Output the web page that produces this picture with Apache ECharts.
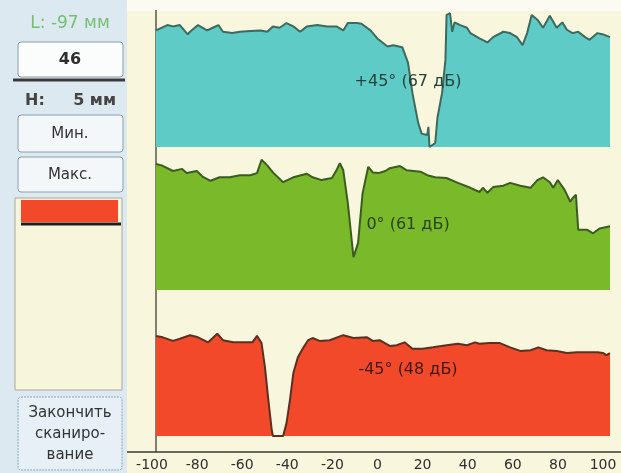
<!DOCTYPE html>
<html><head><meta charset="utf-8">
<script src="https://cdn.jsdelivr.net/npm/echarts@6/dist/echarts.min.js"></script>
<style>html,body{margin:0;padding:0;background:#f8f6dc;}#c{width:621px;height:473px;}</style>
</head><body><div id="c"></div>
<script>
// ---- data ----
const tickValues = [-100, -80, -60, -40, -20, 0, 20, 40, 60, 80, 100];
const bandLabels = ['+45° (67 дБ)', '0° (61 дБ)', '-45° (48 дБ)'];
const panelTexts = ['L: -97 мм', '46', 'H:', '5 мм', 'Мин.', 'Макс.', 'Закончить', 'сканиро-', 'вание'];

const plus45 = [[-100,87],[-95,91],[-92.5,90],[-89.5,91],[-86,84],[-85,86],[-81.5,91],[-77.5,87],[-75,89],[-72.5,91],[-70.5,86],[-66.5,85],[-63,86],[-58.5,86.5],[-54,87],[-51,86],[-48.5,90],[-45.5,89],[-42.5,92.5],[-39.5,90],[-36.5,86],[-33.5,90],[-29,91],[-24.5,90],[-20.5,90],[-17.5,87],[-15.5,92.5],[-11.5,92.5],[-9.5,92],[-5.5,87],[-2.5,81],[2,75],[4.5,76],[8.5,74.5],[11,63],[13,40],[15.5,18],[17,10],[19.5,9],[20,15],[20.5,0],[23,3],[24,22],[26,40],[27.5,65],[28,98.5],[29.5,100],[30.5,86],[31.5,93],[34,91],[37,89],[38.5,85],[42.5,81],[46,78],[48.5,82],[53,86],[56,85],[59,82],[61.5,76],[63.5,85],[65.5,98.5],[68,95],[70.5,89],[73.5,98],[76.5,89],[79,93],[81,87.5],[83.5,85],[86,86],[89,82],[91,80],[94.5,85],[97,84],[100,82]];

const zero = [[-100,90],[-97.5,89],[-92.5,85],[-88.5,86.5],[-86.5,83.5],[-82,85],[-79.5,81],[-76,78],[-72,80.5],[-67.5,80.5],[-63,82],[-58.5,82],[-55.5,83.5],[-53.5,93],[-51,89],[-48.5,84],[-44,77],[-39.5,80.5],[-33.5,83],[-31,80.5],[-27,78.5],[-22.5,80],[-20.5,85.5],[-19,90.5],[-17.5,85.5],[-15.5,62],[-13,23.5],[-11,33.5],[-9,69],[-6.5,88],[-4.5,84],[-2,83.5],[1,85],[3,87],[7.5,88.5],[10.5,85.5],[16.5,84.5],[19.5,82],[23,80.5],[28,80],[33,76.5],[38.5,73],[42.5,70],[44,73],[46,69.5],[48.5,73.5],[53,74.5],[56,76.5],[60.5,74.5],[65,73],[68,78.5],[70.5,80.5],[73.5,77],[75,73],[77,78.5],[80,71.5],[82.5,63],[83.5,65.5],[85,68],[86,43],[90,43],[92.5,40.5],[95.5,44],[100,45.5]];

const minus45 = [[-100,70],[-97,69],[-92.5,66.5],[-89.5,68],[-85,70.5],[-81.5,69],[-77,65.5],[-73,71.5],[-70.5,67],[-66,65.5],[-61.5,65.5],[-57.5,65.5],[-55.5,70],[-53.5,65],[-52,48],[-50.5,25],[-49,4],[-48.5,0],[-44,0],[-42.5,9],[-41,25],[-39.5,44],[-37.5,55],[-35,62],[-33,67],[-31,68.5],[-28,66.5],[-23.5,67],[-17.5,70.5],[-13,68.5],[-7,69],[-4.5,66.5],[-1.5,67],[3,63],[6,63.5],[9.5,65.5],[13,61],[17.5,61],[22,62],[28,63.5],[33,64.5],[37,63.5],[40.5,65.5],[42.5,64.5],[47,65],[51.5,65],[56,62],[60.5,59.5],[65,60],[68.5,62],[72,60],[76.5,59.5],[81,58],[85.5,58.5],[90,58.5],[94.5,58.5],[97,58],[98.5,56.5],[100,58]];

// ---- chart ----
const FONT = 'DejaVu Sans';
const bands = [
  {data: plus45, fill: '#5ecbc6', line: '#3d6a5c', top: 13, height: 134, lblY: 82, lblColor: '#24433b'},
  {data: zero, fill: '#79b92a', line: '#3b5c20', top: 150, height: 140, lblY: 225, lblColor: '#2b4216'},
  {data: minus45, fill: '#f3492b', line: '#5a3020', top: 293, height: 143, lblY: 370, lblColor: '#3d1a10'}
];

const grids = bands.map(b => ({left: 156, right: 11, top: b.top, height: b.height}));
grids.push({left: 152, right: 18, top: 293, height: 159});

const xAxes = bands.map((b, i) => ({type: 'value', gridIndex: i, min: -100, max: 100, show: false}));
xAxes.push({type: 'value', gridIndex: 3, min: tickValues[0], max: tickValues[tickValues.length - 1], interval: 20,
  axisLine: {show: false}, axisTick: {show: false}, splitLine: {show: false},
  axisLabel: {margin: 6, fontSize: 14, fontFamily: FONT, color: '#2e2e2e',
    formatter: v => tickValues.includes(v) ? String(v) : ''}});
const yAxes = grids.map((g, i) => ({type: 'value', gridIndex: i, min: 0, max: 100, show: false}));

const series = bands.map((b, i) => ({
  type: 'line', xAxisIndex: i, yAxisIndex: i, data: b.data, symbol: 'none', smooth: false,
  lineStyle: {color: b.line, width: 2}, areaStyle: {color: b.fill, opacity: 1}, silent: true
}));

const txt = (t, x, y, size, color, opts) => Object.assign({type: 'text', x, y, silent: true,
  style: Object.assign({text: t, fontSize: size, fontFamily: FONT, fill: color, align: 'center', verticalAlign: 'middle'}, opts || {})});
const rect = (x, y, w, h, fill, stroke, extra) => ({type: 'rect', silent: true,
  shape: {x, y, width: w, height: h, r: 3}, style: Object.assign({fill, stroke, lineWidth: 1}, extra || {})});

const graphic = [
  {type: 'rect', silent: true, z: -10, shape: {x: 0, y: 0, width: 621, height: 11}, style: {fill: '#fbfbf4'}},
  {type: 'rect', silent: true, z: -10, shape: {x: 0, y: 0, width: 127, height: 473}, style: {fill: '#dde9f0'}},
  txt(panelTexts[0], 70, 24, 17, '#74c070'),
  rect(18, 42, 105, 35, '#fbfcfc', '#8d9ca6'),
  txt(panelTexts[1], 70, 60, 16, '#2e2e2e', {fontWeight: 'bold'}),
  {type: 'line', silent: true, shape: {x1: 13, y1: 80, x2: 125, y2: 80}, style: {stroke: '#3a3a3a', lineWidth: 3}},
  txt(panelTexts[2], 25, 101, 16, '#444', {align: 'left', fontWeight: 'bold'}),
  txt(panelTexts[3], 116, 101, 16, '#444', {align: 'right', fontWeight: 'bold'}),
  rect(18, 115, 105, 37, '#f3f7fa', '#8aa0ae'),
  txt(panelTexts[4], 70, 134, 15, '#333'),
  rect(18, 157, 105, 35, '#f3f7fa', '#8aa0ae'),
  txt(panelTexts[5], 70, 175, 15, '#333'),
  {type: 'rect', silent: true, shape: {x: 15, y: 198, width: 107, height: 192}, style: {fill: '#f7f5dc', stroke: '#a8aa9c', lineWidth: 1}},
  {type: 'rect', silent: true, shape: {x: 21, y: 200, width: 97, height: 22}, style: {fill: '#f3492b'}},
  {type: 'line', silent: true, shape: {x1: 21, y1: 224, x2: 121, y2: 224}, style: {stroke: '#1e1e1e', lineWidth: 3}},
  rect(18, 397, 104, 73, '#e6f0f6', '#8aa6b8', {lineDash: [2, 1]}),
  txt(panelTexts[6], 70, 413, 15, '#333'),
  txt(panelTexts[7], 70, 434, 15, '#333'),
  txt(panelTexts[8], 70, 455, 15, '#333'),
  {type: 'line', silent: true, shape: {x1: 156, y1: 10, x2: 156, y2: 452}, style: {stroke: '#555a4a', lineWidth: 1.5}},
  {type: 'line', silent: true, shape: {x1: 127, y1: 452, x2: 621, y2: 452}, style: {stroke: '#3a3a34', lineWidth: 1.5}}
];
bands.forEach((b, i) => graphic.push(Object.assign(txt(bandLabels[i], 408, b.lblY, 16, b.lblColor), {z: 100})));

const chart = echarts.init(document.getElementById('c'), null, {renderer: 'canvas'});
chart.setOption({
  animation: false,
  backgroundColor: '#f8f6dc',
  grid: grids, xAxis: xAxes, yAxis: yAxes, series, graphic
});
</script></body></html>
